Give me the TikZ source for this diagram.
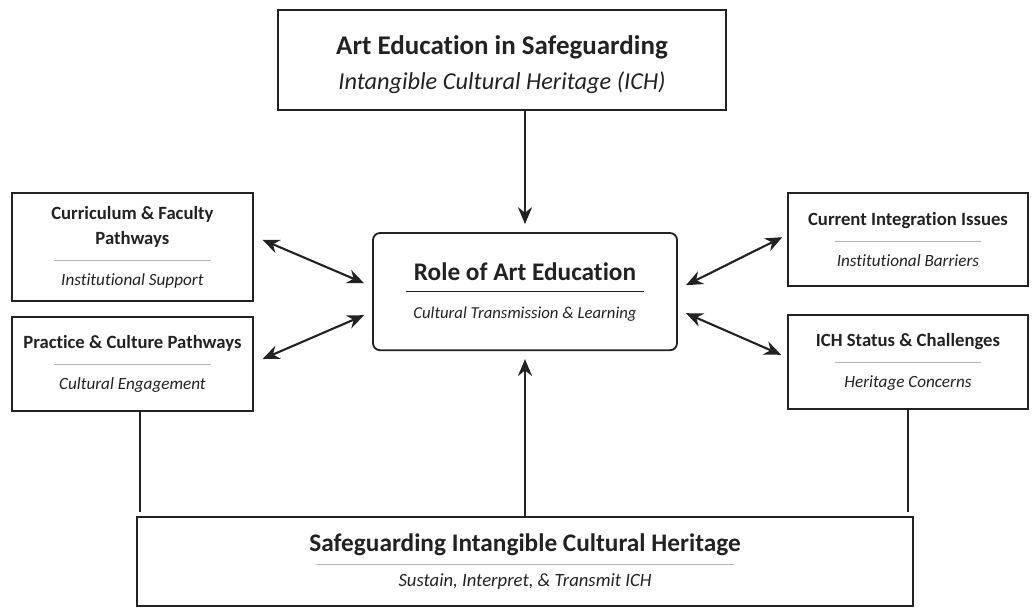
\documentclass[tikz,border=0pt]{standalone}
\usepackage{fontspec}
\setmainfont{Carlito}[Ligatures=NoCommon]
\usetikzlibrary{arrows.meta,positioning}
\definecolor{ink}{HTML}{222222}
\definecolor{sepgray}{HTML}{B4B4B4}
\newcommand{\sepline}[3][sepgray]{\textcolor{#1}{\rule[#3]{#2}{0.6pt}}}

\begin{document}
\begin{tikzpicture}[>={Stealth[length=12pt,width=10pt]}]
			\tikzset{
			    frame/.style={draw=ink, line width=1.3pt, align=center, inner sep=0pt, text=ink},
			    side/.style={frame, minimum width=6.02cm, font=\fontsize{12.2}{18}\selectfont},
			    link/.style={draw=ink, line width=1.5pt},
			}
			\newcommand{\sidehead}[1]{{\fontsize{13.3}{16}\selectfont\bfseries #1}}
			\useasboundingbox (0,0) rectangle (25.8,15.2);

			\node[frame, minimum width=11.18cm, minimum height=2.5cm, font=\fontsize{17.3}{25}\selectfont] (head) at (12.55,13.7)
			    {\rule{0pt}{20pt}{\fontsize{19.2}{22}\selectfont\bfseries Art Education in Safeguarding}\\
			     {\itshape Intangible Cultural Heritage (ICH)}\vphantom{g}};

			\node[frame, rounded corners=5pt, minimum width=7.6cm, minimum height=2.93cm, font=\fontsize{11.9}{16}\selectfont] (role) at (13.125,7.91)
			    {{\fontsize{18}{20}\selectfont\bfseries Role of Art Education}\\[-2.5pt]
			     \sepline[ink]{170pt}{5pt}\\[-2.5pt]
			     {\itshape Cultural Transmission \& Learning}};

			\node[side, minimum height=2.7cm] (curr) at (3.31,9.025)
			    {\sidehead{Curriculum \& Faculty}\\\sidehead{Pathways}\\[-3.5pt]
			     \sepline{112pt}{3pt}\\[-3.5pt]
			     {\itshape Institutional Support}};
			\node[side, minimum height=2.35cm, below=0.35cm of curr] (prac)
			    {\sidehead{Practice \& Culture Pathways}\\[-3.5pt]
			     \sepline{112pt}{3pt}\\[-3.5pt]
			     {\itshape Cultural Engagement}};

			\node[side, minimum width=6cm, minimum height=2.33cm] (integ) at (22.7,9.21)
			    {\sidehead{Current Integration Issues}\\[-3.5pt]
			     \sepline{104pt}{3pt}\\[-3.5pt]
			     {\itshape Institutional Barriers}};
			\node[side, minimum width=6cm, minimum height=2.35cm] (status) at (22.7,6.15)
			    {\sidehead{ICH Status \& Challenges}\\[-3.5pt]
			     \sepline{104pt}{3pt}\\[-3.5pt]
			     {\itshape Heritage Concerns}};

			\node[frame, minimum width=19.4cm, minimum height=2.22cm, font=\fontsize{13.3}{14}\selectfont] (safe) at (13.125,1.16)
			    {{\fontsize{18}{20}\selectfont\bfseries Safeguarding Intangible Cultural Heritage}\\[-1pt]
			     \sepline{298pt}{3.2pt}\\[-1.6pt]
			     {\itshape Sustain, Interpret, \& Transmit ICH}};

			% arrows into the centre
			\draw[link,->] (role.north |- head.south) -- ([yshift=0.2cm]role.north);
			\draw[link,->] (role.south |- safe.north) -- ([yshift=-0.2cm]role.south);

			\draw[link,<->] ([shift={(0.22,0.18)}]curr.east) -- ([shift={(-0.2,0.21)}]role.west);
			\draw[link,<->] ([shift={(0.22,0.12)}]prac.east) -- ([shift={(-0.2,-0.59)}]role.west);
			\draw[link,<->] ([shift={(0.2,0.16)}]role.east) -- ([shift={(-0.12,0.06)}]integ.west);
			\draw[link,<->] ([shift={(0.2,-0.54)}]role.east) -- ([shift={(-0.15,0.18)}]status.west);

			% side boxes down to the base
			\draw[link] ([xshift=0.19cm]prac.south) -- ([xshift=0.19cm,yshift=0.1cm]prac.south |- safe.north);
			\draw[link] (status.south) -- ([yshift=0.1cm]status.south |- safe.north);
		    \end{tikzpicture}
\end{document}
